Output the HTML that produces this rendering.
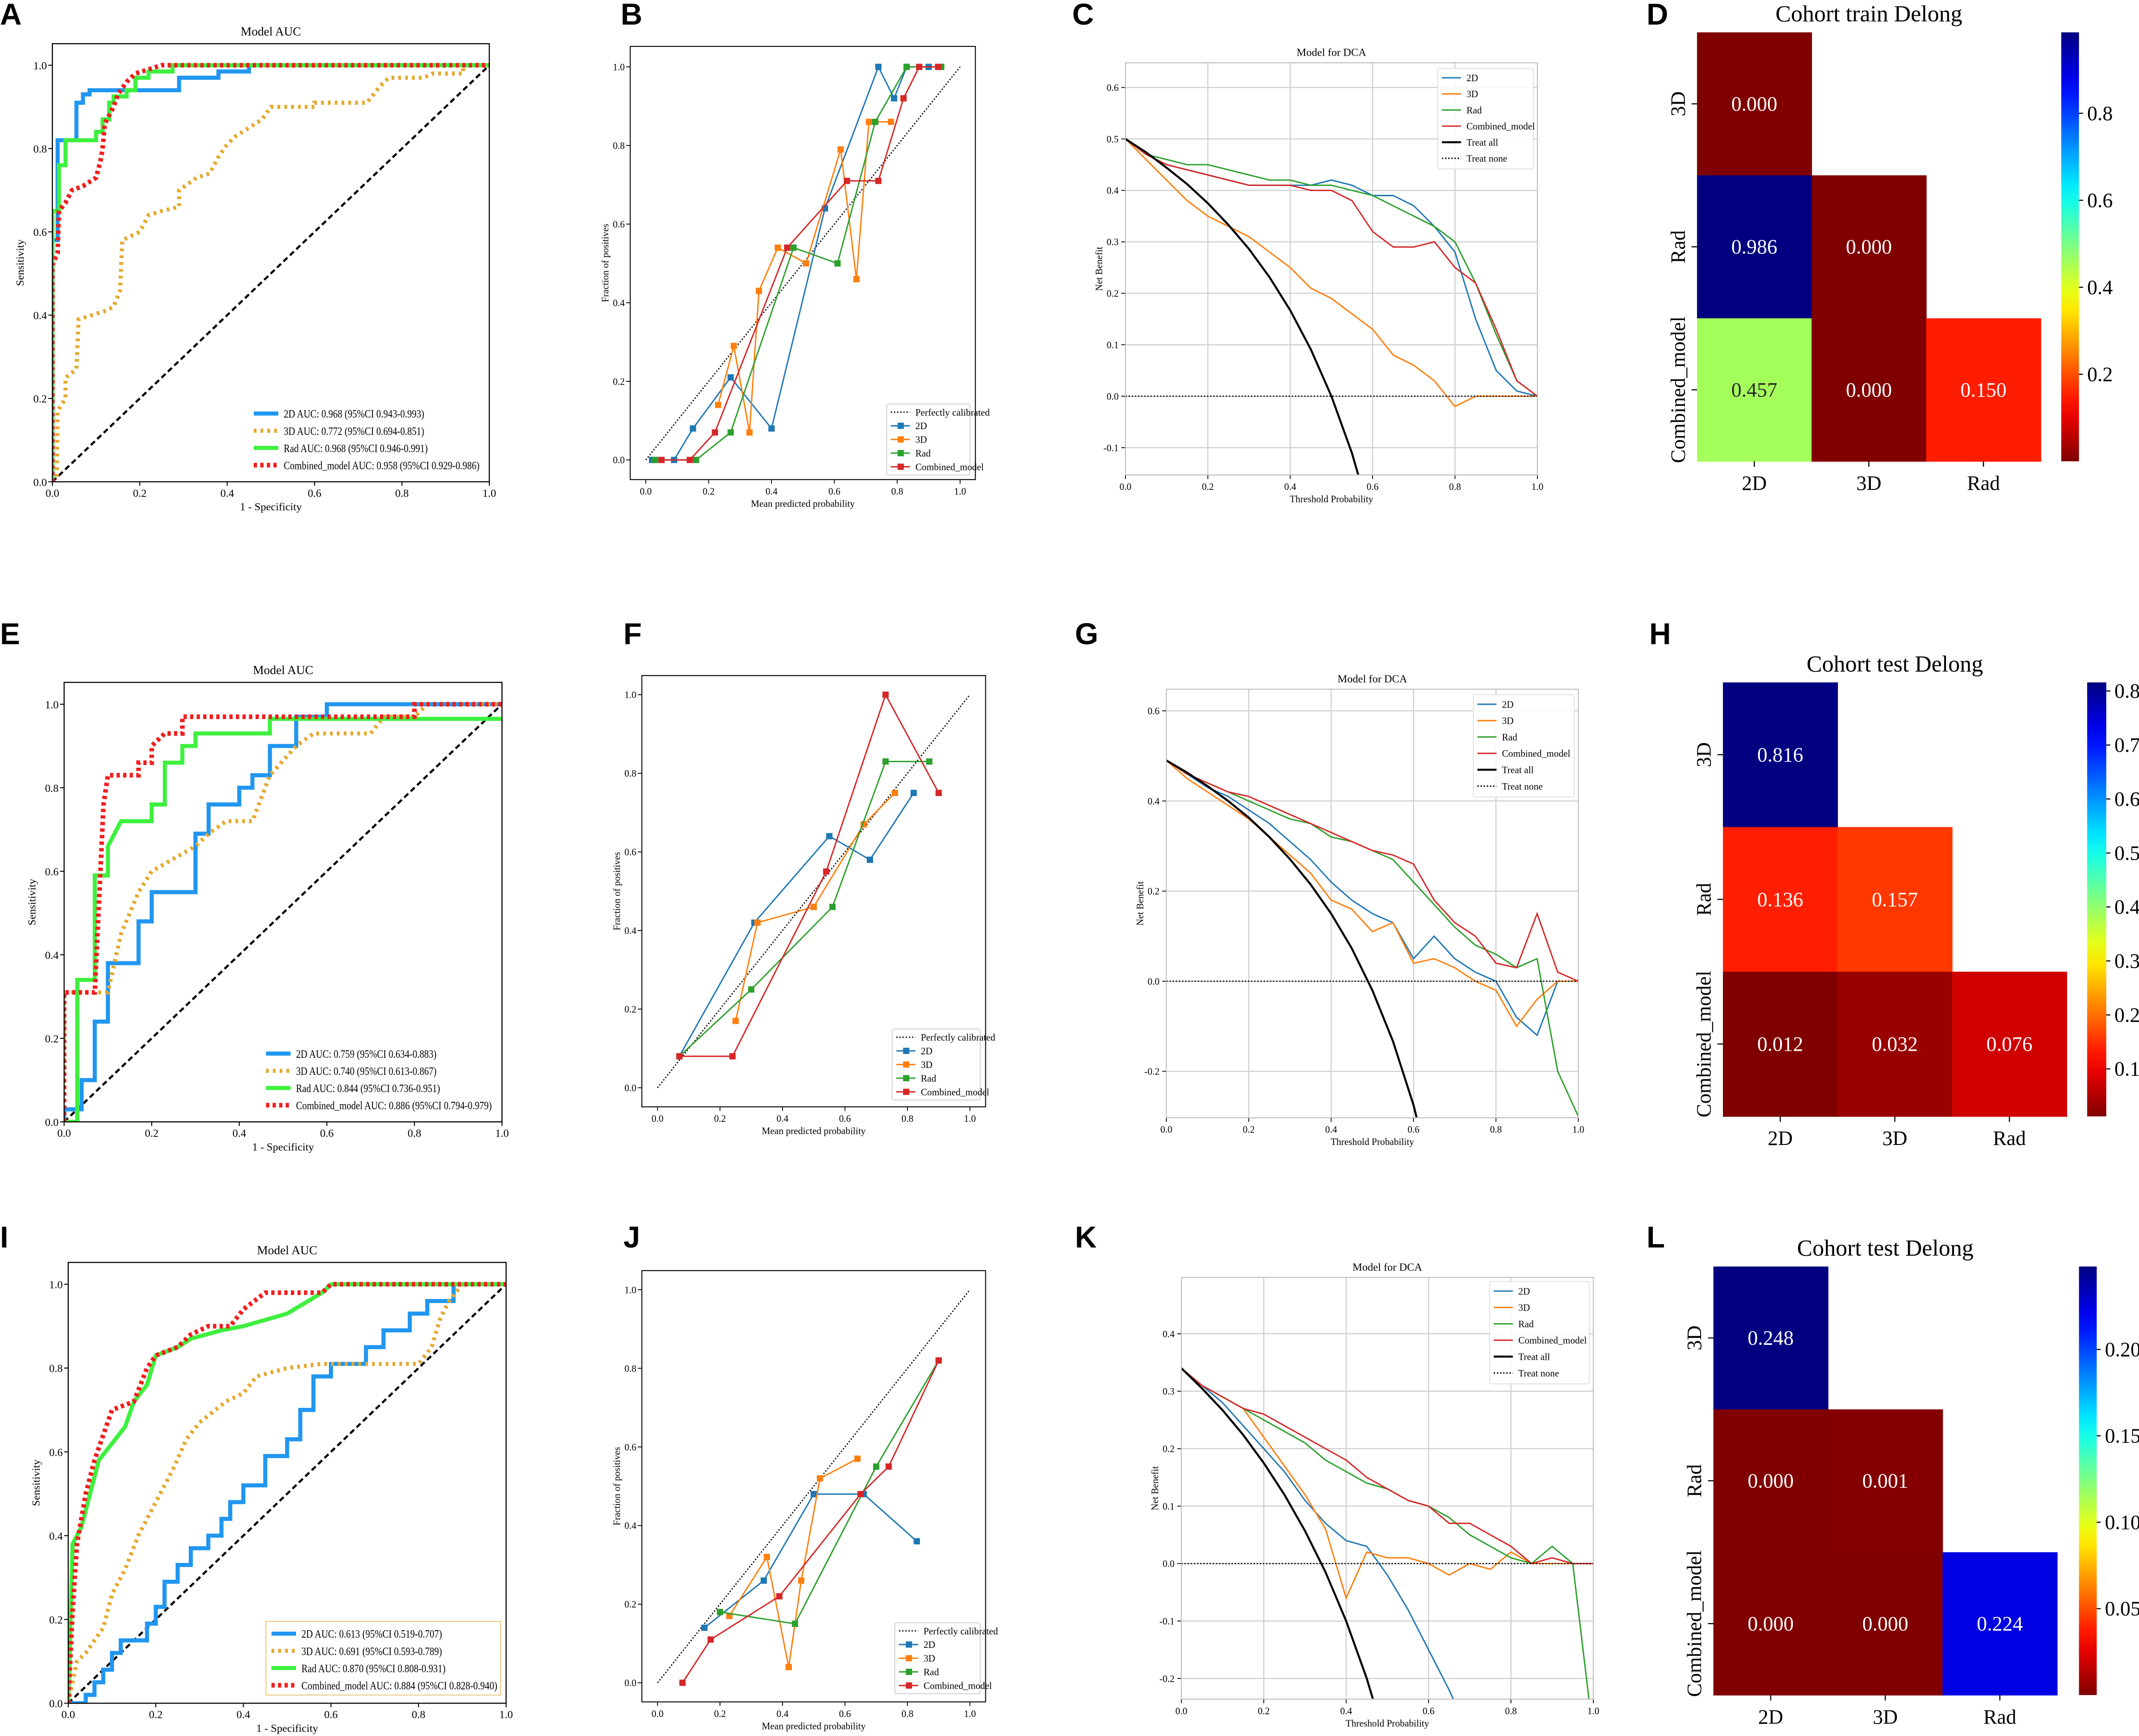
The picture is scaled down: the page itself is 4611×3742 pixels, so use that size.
<!DOCTYPE html>
<html><head><meta charset="utf-8"><style>
html,body{margin:0;padding:0;background:#fff;width:4611px;height:3742px;overflow:hidden}
svg{display:block}
text{font-family:"Liberation Serif",serif}
.lt{font-family:"Liberation Sans",sans-serif;font-weight:bold}
</style></head><body>
<svg id="fig" xmlns="http://www.w3.org/2000/svg" width="4611" height="3742" viewBox="0 0 1568 1272" preserveAspectRatio="none">
<rect x="0" y="0" width="1568" height="1272" fill="#fff"/>
</svg>
<script>
// ===== ROC data (fpr, tpr pairs) =====
const rocA_2d=[[0,0],[0,0.58],[0.012,0.58],[0.012,0.82],[0.055,0.82],[0.055,0.91],[0.07,0.91],[0.07,0.93],[0.085,0.93],[0.085,0.94],[0.29,0.94],[0.29,0.97],[0.38,0.97],[0.38,0.985],[0.45,0.985],[0.45,1],[1,1]];
const rocA_3d=[[0,0],[0.01,0.01],[0.012,0.17],[0.03,0.2],[0.03,0.25],[0.055,0.27],[0.06,0.39],[0.09,0.4],[0.12,0.41],[0.14,0.42],[0.155,0.46],[0.16,0.58],[0.2,0.6],[0.22,0.64],[0.25,0.65],[0.29,0.66],[0.29,0.7],[0.33,0.73],[0.36,0.74],[0.38,0.78],[0.4,0.81],[0.42,0.83],[0.45,0.85],[0.48,0.87],[0.5,0.9],[0.6,0.9],[0.6,0.91],[0.72,0.91],[0.75,0.95],[0.77,0.97],[0.85,0.97],[0.87,0.98],[0.94,0.98],[0.94,1],[1,1]];
const rocA_rad=[[0,0],[0,0.65],[0.015,0.65],[0.015,0.76],[0.03,0.76],[0.03,0.82],[0.1,0.82],[0.1,0.84],[0.115,0.84],[0.115,0.87],[0.13,0.87],[0.13,0.91],[0.14,0.91],[0.14,0.925],[0.17,0.925],[0.17,0.94],[0.19,0.94],[0.19,0.97],[0.22,0.97],[0.22,0.985],[0.275,0.985],[0.275,1],[1,1]];
const rocA_comb=[[0,0],[0,0.52],[0.012,0.55],[0.015,0.65],[0.03,0.67],[0.045,0.7],[0.07,0.71],[0.1,0.73],[0.11,0.77],[0.115,0.8],[0.12,0.86],[0.14,0.9],[0.15,0.93],[0.17,0.96],[0.19,0.98],[0.22,0.99],[0.25,1],[1,1]];
const rocE_2d=[[0,0],[0,0.03],[0.04,0.03],[0.04,0.1],[0.07,0.1],[0.07,0.24],[0.1,0.24],[0.1,0.38],[0.17,0.38],[0.17,0.48],[0.2,0.48],[0.2,0.55],[0.3,0.55],[0.3,0.69],[0.33,0.69],[0.33,0.76],[0.4,0.76],[0.4,0.8],[0.43,0.8],[0.43,0.83],[0.47,0.83],[0.47,0.9],[0.53,0.9],[0.53,0.97],[0.6,0.97],[0.6,1],[1,1]];
const rocE_3d=[[0,0],[0,0.31],[0.1,0.31],[0.13,0.45],[0.17,0.55],[0.2,0.6],[0.3,0.66],[0.33,0.69],[0.37,0.72],[0.43,0.72],[0.47,0.83],[0.53,0.9],[0.57,0.93],[0.7,0.93],[0.73,0.97],[0.8,0.97],[0.83,1],[1,1]];
const rocE_rad=[[0,0],[0.03,0],[0.03,0.34],[0.07,0.34],[0.07,0.59],[0.1,0.59],[0.1,0.66],[0.13,0.72],[0.2,0.72],[0.2,0.76],[0.23,0.76],[0.23,0.86],[0.27,0.86],[0.27,0.9],[0.3,0.9],[0.3,0.93],[0.47,0.93],[0.47,0.965],[1,0.965]];
const rocE_comb=[[0,0],[0,0.31],[0.07,0.31],[0.09,0.76],[0.1,0.83],[0.17,0.83],[0.17,0.86],[0.2,0.86],[0.2,0.9],[0.23,0.93],[0.27,0.93],[0.27,0.97],[0.8,0.97],[0.8,1],[1,1]];
const rocI_2d=[[0,0],[0.04,0],[0.04,0.02],[0.06,0.02],[0.06,0.05],[0.08,0.05],[0.08,0.08],[0.1,0.08],[0.1,0.12],[0.12,0.12],[0.12,0.15],[0.18,0.15],[0.18,0.19],[0.2,0.19],[0.2,0.23],[0.22,0.23],[0.22,0.29],[0.25,0.29],[0.25,0.33],[0.28,0.33],[0.28,0.37],[0.32,0.37],[0.32,0.4],[0.35,0.4],[0.35,0.44],[0.37,0.44],[0.37,0.48],[0.4,0.48],[0.4,0.52],[0.45,0.52],[0.45,0.59],[0.5,0.59],[0.5,0.63],[0.53,0.63],[0.53,0.7],[0.56,0.7],[0.56,0.78],[0.6,0.78],[0.6,0.81],[0.68,0.81],[0.68,0.85],[0.72,0.85],[0.72,0.89],[0.78,0.89],[0.78,0.93],[0.82,0.93],[0.82,0.96],[0.88,0.96],[0.88,1],[1,1]];
const rocI_3d=[[0,0],[0.02,0.1],[0.04,0.12],[0.08,0.18],[0.1,0.26],[0.13,0.32],[0.16,0.4],[0.2,0.48],[0.24,0.56],[0.27,0.63],[0.3,0.67],[0.36,0.72],[0.4,0.74],[0.43,0.78],[0.5,0.8],[0.58,0.81],[0.8,0.81],[0.83,0.85],[0.85,0.92],[0.87,0.96],[0.9,1],[1,1]];
const rocI_rad=[[0,0],[0.01,0.38],[0.03,0.42],[0.05,0.5],[0.07,0.58],[0.1,0.62],[0.13,0.66],[0.15,0.72],[0.18,0.76],[0.2,0.83],[0.25,0.85],[0.28,0.87],[0.35,0.89],[0.4,0.9],[0.5,0.93],[0.58,0.98],[0.6,1],[1,1]];
const rocI_comb=[[0,0],[0.01,0.22],[0.02,0.38],[0.04,0.5],[0.06,0.58],[0.08,0.64],[0.1,0.7],[0.15,0.72],[0.18,0.8],[0.2,0.83],[0.25,0.85],[0.28,0.88],[0.32,0.9],[0.37,0.9],[0.4,0.94],[0.45,0.98],[0.58,0.98],[0.6,1],[1,1]];
const rocLabelsA=["2D AUC: 0.968 (95%CI 0.943-0.993)","3D AUC: 0.772 (95%CI 0.694-0.851)","Rad AUC: 0.968 (95%CI 0.946-0.991)","Combined_model AUC: 0.958 (95%CI 0.929-0.986)"];
const rocLabelsE=["2D AUC: 0.759 (95%CI 0.634-0.883)","3D AUC: 0.740 (95%CI 0.613-0.867)","Rad AUC: 0.844 (95%CI 0.736-0.951)","Combined_model AUC: 0.886 (95%CI 0.794-0.979)"];
const rocLabelsI=["2D AUC: 0.613 (95%CI 0.519-0.707)","3D AUC: 0.691 (95%CI 0.593-0.789)","Rad AUC: 0.870 (95%CI 0.808-0.931)","Combined_model AUC: 0.884 (95%CI 0.828-0.940)"];
const unitTicks=[0,0.2,0.4,0.6,0.8,1.0];
const unitTickLabels=["0.0","0.2","0.4","0.6","0.8","1.0"];

// ===== Calibration data =====
const calB_2d=[[0.02,0],[0.09,0],[0.15,0.08],[0.27,0.21],[0.4,0.08],[0.57,0.64],[0.74,1],[0.79,0.92],[0.83,1],[0.9,1]];
const calB_3d=[[0.23,0.14],[0.28,0.29],[0.33,0.07],[0.36,0.43],[0.42,0.54],[0.51,0.5],[0.62,0.79],[0.67,0.46],[0.71,0.86],[0.78,0.86]];
const calB_rad=[[0.03,0],[0.16,0],[0.27,0.07],[0.47,0.54],[0.61,0.5],[0.73,0.86],[0.83,1],[0.94,1]];
const calB_comb=[[0.05,0],[0.14,0],[0.22,0.07],[0.45,0.54],[0.64,0.71],[0.74,0.71],[0.82,0.92],[0.87,1],[0.93,1]];
const calF_2d=[[0.07,0.08],[0.31,0.42],[0.55,0.64],[0.68,0.58],[0.82,0.75]];
const calF_3d=[[0.25,0.17],[0.32,0.42],[0.5,0.46],[0.66,0.67],[0.76,0.75]];
const calF_rad=[[0.07,0.08],[0.3,0.25],[0.56,0.46],[0.73,0.83],[0.87,0.83]];
const calF_comb=[[0.07,0.08],[0.24,0.08],[0.54,0.55],[0.73,1],[0.9,0.75]];
const calJ_2d=[[0.15,0.14],[0.34,0.26],[0.5,0.48],[0.66,0.48],[0.83,0.36]];
const calJ_3d=[[0.23,0.17],[0.35,0.32],[0.42,0.04],[0.46,0.26],[0.52,0.52],[0.64,0.57]];
const calJ_rad=[[0.2,0.18],[0.44,0.15],[0.7,0.55],[0.9,0.82]];
const calJ_comb=[[0.08,0],[0.17,0.11],[0.39,0.22],[0.65,0.48],[0.74,0.55],[0.9,0.82]];
const calLabels=["2D","3D","Rad","Combined_model"];

// ===== DCA data =====
const thresholds=[0,0.05,0.1,0.15,0.2,0.25,0.3,0.35,0.4,0.45,0.5,0.55,0.6,0.65,0.7,0.75,0.8,0.85,0.9,0.95,1.0];
const dcaC_2d=[0.5,0.47,0.45,0.44,0.43,0.42,0.41,0.41,0.41,0.41,0.42,0.41,0.39,0.39,0.37,0.33,0.28,0.15,0.05,0.01,0];
const dcaC_3d=[0.5,0.46,0.42,0.38,0.35,0.33,0.31,0.28,0.25,0.21,0.19,0.16,0.13,0.08,0.06,0.03,-0.02,0,0,0,0];
const dcaC_rad=[0.5,0.47,0.46,0.45,0.45,0.44,0.43,0.42,0.42,0.41,0.41,0.40,0.39,0.37,0.35,0.33,0.30,0.22,0.12,0.03,0];
const dcaC_comb=[0.5,0.47,0.45,0.44,0.43,0.42,0.41,0.41,0.41,0.40,0.40,0.38,0.32,0.29,0.29,0.30,0.25,0.22,0.13,0.03,0];
const dcaC_all=[0.5,0.474,0.444,0.412,0.375,0.333,0.286,0.231,0.167,0.091,0,-0.111,-0.25,-0.43,-0.67,-1,-1.5,-2.3,-4,-9,-9];
const dcaG_2d=[0.49,0.46,0.43,0.41,0.38,0.35,0.31,0.27,0.22,0.18,0.15,0.13,0.05,0.10,0.05,0.02,0.0,-0.08,-0.12,0.0,0];
const dcaG_3d=[0.49,0.45,0.42,0.39,0.36,0.32,0.28,0.24,0.18,0.16,0.11,0.13,0.04,0.05,0.03,0.0,-0.02,-0.10,-0.04,0,0];
const dcaG_rad=[0.49,0.46,0.44,0.42,0.40,0.38,0.36,0.35,0.32,0.31,0.29,0.27,0.22,0.17,0.12,0.08,0.06,0.03,0.05,-0.2,-0.3];
const dcaG_comb=[0.49,0.46,0.44,0.42,0.41,0.39,0.37,0.35,0.33,0.31,0.29,0.28,0.26,0.18,0.13,0.10,0.04,0.03,0.15,0.02,0];
const dcaG_all=[0.49,0.463,0.433,0.4,0.363,0.32,0.271,0.215,0.15,0.073,-0.02,-0.133,-0.275,-0.46,-0.7,-1,-1.5,-2.4,-4,-9,-9];
const dcaK_2d=[0.34,0.31,0.28,0.24,0.2,0.16,0.11,0.07,0.04,0.03,-0.02,-0.08,-0.15,-0.22,-0.3,-0.3,-0.3,-0.3,-0.3,-0.3,-0.3];
const dcaK_3d=[0.34,0.31,0.29,0.27,0.22,0.17,0.12,0.06,-0.06,0.02,0.01,0.01,0.0,-0.02,0,-0.01,0.02,0,0,0,0];
const dcaK_rad=[0.34,0.31,0.29,0.27,0.25,0.23,0.21,0.18,0.16,0.14,0.13,0.11,0.10,0.08,0.05,0.03,0.01,0.0,0.03,0.0,-0.3];
const dcaK_comb=[0.34,0.31,0.29,0.27,0.26,0.24,0.22,0.20,0.18,0.15,0.13,0.11,0.10,0.07,0.07,0.05,0.03,0.0,0.01,0.0,0];
const dcaK_all=[0.34,0.305,0.267,0.224,0.175,0.12,0.057,-0.015,-0.1,-0.2,-0.32,-0.47,-0.65,-0.89,-1.2,-1.6,-2.3,-3.4,-5.6,-12,-12];
const dcaLabels=["2D","3D","Rad","Combined_model","Treat all","Treat none"];

// ===== Heatmap data =====
const hmRows=["3D","Rad","Combined_model"];
const hmCols=["2D","3D","Rad"];
const hmD=[[0.000],[0.986,0.000],[0.457,0.000,0.150]];
const hmH=[[0.816],[0.136,0.157],[0.012,0.032,0.076]];
const hmL=[[0.248],[0.000,0.001],[0.000,0.000,0.224]];
const cbTicksD=[0.2,0.4,0.6,0.8], cbTickLabD=["0.2","0.4","0.6","0.8"];
const cbTicksH=[0.1,0.2,0.3,0.4,0.5,0.6,0.7,0.8], cbTickLabH=["0.1","0.2","0.3","0.4","0.5","0.6","0.7","0.8"];
const cbTicksL=[0.05,0.10,0.15,0.20], cbTickLabL=["0.05","0.10","0.15","0.20"];

const NS='http://www.w3.org/2000/svg';
const svg=document.getElementById('fig');
function mk(tag,attrs,name,parent){
  const e=document.createElementNS(NS,tag);
  for(const k in attrs) e.setAttribute(k,attrs[k]);
  
  
  (parent||svg).appendChild(e);
  return e;
}
function txt(x,y,s,size,name,parent,anchor,extra){
  const a={x:x,y:y,'font-size':size,'text-anchor':anchor||'middle',fill:'#000'};
  if(extra) for(const k in extra) a[k]=extra[k];
  const t=mk('text',a,name,parent); t.textContent=s; return t;
}
function lin(d0,d1,p0,p1){return v=>p0+(v-d0)/(d1-d0)*(p1-p0);}
function pathOf(pts,sx,sy){return pts.map((p,i)=>(i?'L':'M')+sx(p[0]).toFixed(2)+' '+sy(p[1]).toFixed(2)).join(' ');}
let clipN=0;
function clipRect(L,T,R,B){
  const id='cl'+(clipN++);
  const cp=mk('clipPath',{id:id},'clip-path');
  mk('rect',{x:L,y:T,width:R-L,height:B-T},'clip-rect',cp);
  return 'url(#'+id+')';
}
function letter(s,x,y){txt(x,y,s,22,'panel-label-'+s.toLowerCase(),svg,'start',{'class':'lt'});}

// ===== ROC =====
function roc(c){
  const g=mk('g',{},'roc-panel-'+c.id);
  const sx=lin(0,1,c.L,c.R), sy=lin(0,1,c.B,c.y1);
  txt((c.L+c.R)/2,c.T-6,'Model AUC',9,'chart-title',g);
  const cp=clipRect(c.L,c.T,c.R,c.B);
  const pg=mk('g',{'clip-path':cp},'plot-area',g);
  mk('line',{x1:sx(0),y1:sy(0),x2:sx(1),y2:sy(1),stroke:'#000','stroke-width':1.6,'stroke-dasharray':'4 2.5'},'reference-diagonal',pg);
  const styles=[{s:c.d2,col:'#2196f0',w:3,da:''},{s:c.d3,col:'#e4a92e',w:3,da:'2 3'},{s:c.rad,col:'#3ef03e',w:3,da:''},{s:c.comb,col:'#f01e1e',w:3.4,da:'2.4 2.4'}];
  const names=['roc-2d','roc-3d','roc-rad','roc-combined'];
  styles.forEach((st,i)=>{mk('path',{d:pathOf(st.s,sx,sy),fill:'none',stroke:st.col,'stroke-width':st.w,'stroke-dasharray':st.da,'stroke-linejoin':'miter'},names[i],pg);});
  mk('rect',{x:c.L,y:c.T,width:c.R-c.L,height:c.B-c.T,fill:'none',stroke:'#000','stroke-width':0.8},'axes-frame',g);
  unitTicks.forEach((v,i)=>{
    mk('line',{x1:sx(v),y1:c.B,x2:sx(v),y2:c.B+3,stroke:'#000','stroke-width':0.7},'x-tick',g);
    txt(sx(v),c.B+11,unitTickLabels[i],8,'x-tick-label',g);
    mk('line',{x1:c.L-3,y1:sy(v),x2:c.L,y2:sy(v),stroke:'#000','stroke-width':0.7},'y-tick',g);
    txt(c.L-4,sy(v)+3,unitTickLabels[i],8,'y-tick-label',g,'end');
  });
  txt((c.L+c.R)/2,c.B+21,'1 - Specificity',8,'x-axis-title',g);
  txt(0,0,'Sensitivity',8,'y-axis-title',g,'middle',{transform:'translate('+(c.L-21)+','+((c.T+c.B)/2)+') rotate(-90)'});
  const lg=mk('g',{},'legend',g);
  mk('rect',{x:c.lx,y:c.ly,width:c.lw,height:54,fill:'#fff',stroke:c.lbc||'#fff','stroke-width':0.6},'legend-box',lg);
  styles.forEach((st,i)=>{
    const y=c.ly+9+i*12.6;
    mk('line',{x1:c.lx+4,y1:y,x2:c.lx+22,y2:y,stroke:st.col,'stroke-width':st.w,'stroke-dasharray':st.da},'legend-swatch',lg);
    const t=txt(c.lx+26,y+3,c.labels[i],8.3,'legend-entry',lg,'start');
    const w=t.getComputedTextLength();
    if(w>0){t.setAttribute('textLength',(w*0.82).toFixed(1));t.setAttribute('lengthAdjust','spacingAndGlyphs');}
  });
}
roc({id:'a',L:38.4,R:358.7,T:32,B:353,y1:47.8,d2:rocA_2d,d3:rocA_3d,rad:rocA_rad,comb:rocA_comb,labels:rocLabelsA,lx:182,ly:294,lw:173});
roc({id:'e',L:47,R:368,T:500,B:822,y1:516,d2:rocE_2d,d3:rocE_3d,rad:rocE_rad,comb:rocE_comb,labels:rocLabelsE,lx:191,ly:763,lw:174});
roc({id:'i',L:50,R:371,T:925,B:1248,y1:941,d2:rocI_2d,d3:rocI_3d,rad:rocI_rad,comb:rocI_comb,labels:rocLabelsI,lx:195,ly:1188,lw:172,lbc:'#e8c070'});

// ===== Calibration =====
const tab=['#1f77b4','#ff7f0e','#2ca02c','#d62728'];
function cal(c){
  const g=mk('g',{},'calibration-panel-'+c.id);
  const sx=lin(0,1,c.x0,c.x1), sy=lin(0,1,c.y0,c.y1);
  mk('line',{x1:sx(0),y1:sy(0),x2:sx(1),y2:sy(1),stroke:'#000','stroke-width':0.9,'stroke-dasharray':'1 1.3'},'perfectly-calibrated-line',g);
  const series=[c.d2,c.d3,c.rad,c.comb], names=['cal-2d','cal-3d','cal-rad','cal-combined'];
  series.forEach((s,i)=>{
    mk('path',{d:pathOf(s,sx,sy),fill:'none',stroke:tab[i],'stroke-width':1},names[i],g);
    s.forEach(p=>{mk('rect',{x:sx(p[0])-2.3,y:sy(p[1])-2.3,width:4.6,height:4.6,fill:tab[i]},names[i]+'-marker',g);});
  });
  mk('rect',{x:c.L,y:c.T,width:c.R-c.L,height:c.B-c.T,fill:'none',stroke:'#000','stroke-width':0.7},'axes-frame',g);
  unitTicks.forEach((v,i)=>{
    mk('line',{x1:sx(v),y1:c.B,x2:sx(v),y2:c.B+3,stroke:'#000','stroke-width':0.6},'x-tick',g);
    txt(sx(v),c.B+11,unitTickLabels[i],7,'x-tick-label',g);
    mk('line',{x1:c.L-3,y1:sy(v),x2:c.L,y2:sy(v),stroke:'#000','stroke-width':0.6},'y-tick',g);
    txt(c.L-4,sy(v)+2.5,unitTickLabels[i],7,'y-tick-label',g,'end');
  });
  txt((c.L+c.R)/2,c.B+20,'Mean predicted probability',7,'x-axis-title',g);
  txt(0,0,'Fraction of positives',7,'y-axis-title',g,'middle',{transform:'translate('+(c.L-16)+','+((c.T+c.B)/2)+') rotate(-90)'});
  const lg=mk('g',{},'legend',g);
  mk('rect',{x:c.lx,y:c.ly,width:c.R-4-c.lx,height:52,fill:'#fff',stroke:'#ccc','stroke-width':0.6,rx:1.5},'legend-box',lg);
  let y=c.ly+6;
  mk('line',{x1:c.lx+3,y1:y,x2:c.lx+17,y2:y,stroke:'#000','stroke-width':0.9,'stroke-dasharray':'1 1.3'},'legend-swatch',lg);
  txt(c.lx+21,y+2.5,'Perfectly calibrated',7,'legend-entry',lg,'start');
  calLabels.forEach((l,i)=>{
    y=c.ly+16+i*10;
    mk('line',{x1:c.lx+3,y1:y,x2:c.lx+17,y2:y,stroke:tab[i],'stroke-width':1},'legend-swatch',lg);
    mk('rect',{x:c.lx+8,y:y-2.3,width:4.6,height:4.6,fill:tab[i]},'legend-marker',lg);
    txt(c.lx+21,y+2.5,l,7,'legend-entry',lg,'start');
  });
}
cal({id:'b',L:462,R:715,T:34,B:351.4,x0:473.4,x1:703.8,y0:337,y1:49,d2:calB_2d,d3:calB_3d,rad:calB_rad,comb:calB_comb,lx:650,ly:296});
cal({id:'f',L:470.5,R:722.5,T:495,B:811,x0:482,x1:711,y0:797,y1:509,d2:calF_2d,d3:calF_3d,rad:calF_rad,comb:calF_comb,lx:654,ly:754});
cal({id:'j',L:470.5,R:722.5,T:931,B:1247,x0:482,x1:711,y0:1233,y1:945,d2:calJ_2d,d3:calJ_3d,rad:calJ_rad,comb:calJ_comb,lx:656,ly:1189});

// ===== DCA =====
function dca(c){
  const g=mk('g',{},'dca-panel-'+c.id);
  const sx=lin(0,1,c.L,c.R), sy=lin(c.ymin,c.ymax,c.B,c.T);
  txt((c.L+c.R)/2,c.T-5,'Model for DCA',8,'chart-title',g);
  const xt=[0,0.2,0.4,0.6,0.8,1.0];
  xt.forEach((v,i)=>{
    if(v>0&&v<1) mk('line',{x1:sx(v),y1:c.T,x2:sx(v),y2:c.B,stroke:'#cfcfcf','stroke-width':0.8},'x-grid-line',g);
    mk('line',{x1:sx(v),y1:c.B,x2:sx(v),y2:c.B+3,stroke:'#000','stroke-width':0.6},'x-tick',g);
    txt(sx(v),c.B+11,unitTickLabels[i],7,'x-tick-label',g);
  });
  c.yt.forEach((v,i)=>{
    mk('line',{x1:c.L,y1:sy(v),x2:c.R,y2:sy(v),stroke:'#cfcfcf','stroke-width':0.8},'y-grid-line',g);
    mk('line',{x1:c.L-3,y1:sy(v),x2:c.L,y2:sy(v),stroke:'#000','stroke-width':0.6},'y-tick',g);
    txt(c.L-5,sy(v)+2.5,c.ytl[i],7,'y-tick-label',g,'end');
  });
  const cp=clipRect(c.L,c.T,c.R,c.B);
  const pg=mk('g',{'clip-path':cp},'plot-area',g);
  const ser=[c.d2,c.d3,c.rad,c.comb], names=['dca-2d','dca-3d','dca-rad','dca-combined'];
  ser.forEach((s,i)=>{
    const pts=thresholds.map((t,k)=>[t,s[k]]);
    mk('path',{d:pathOf(pts,sx,sy),fill:'none',stroke:tab[i],'stroke-width':1},names[i],pg);
  });
  const ap=thresholds.map((t,k)=>[t,c.all[k]]);
  mk('path',{d:pathOf(ap,sx,sy),fill:'none',stroke:'#000','stroke-width':1.5},'treat-all-line',pg);
  mk('line',{x1:sx(0),y1:sy(0),x2:sx(1),y2:sy(0),stroke:'#000','stroke-width':0.9,'stroke-dasharray':'1 1.3'},'treat-none-line',pg);
  mk('rect',{x:c.L,y:c.T,width:c.R-c.L,height:c.B-c.T,fill:'none',stroke:'#bbb','stroke-width':0.7},'axes-frame',g);
  txt((c.L+c.R)/2,c.B+20,'Threshold Probability',7,'x-axis-title',g);
  txt(0,0,'Net Benefit',7,'y-axis-title',g,'middle',{transform:'translate('+(c.L-17)+','+((c.T+c.B)/2)+') rotate(-90)'});
  const lg=mk('g',{},'legend',g);
  mk('rect',{x:c.lx,y:c.ly,width:c.R-3-c.lx,height:6*c.lsp+3,fill:'#fff','fill-opacity':0.85,stroke:'#ddd','stroke-width':0.6,rx:1.5},'legend-box',lg);
  dcaLabels.forEach((l,i)=>{
    const y=c.ly+7+i*c.lsp;
    const col=i<4?tab[i]:'#000';
    mk('line',{x1:c.lx+3,y1:y,x2:c.lx+17,y2:y,stroke:col,'stroke-width':i==4?1.5:1,'stroke-dasharray':i==5?'1 1.3':''},'legend-swatch',lg);
    txt(c.lx+21,y+2.5,l,7,'legend-entry',lg,'start');
  });
}
dca({id:'c',L:825,R:1127,T:46,B:348,ymin:-0.153,ymax:0.648,yt:[-0.1,0,0.1,0.2,0.3,0.4,0.5,0.6],ytl:["-0.1","0.0","0.1","0.2","0.3","0.4","0.5","0.6"],d2:dcaC_2d,d3:dcaC_3d,rad:dcaC_rad,comb:dcaC_comb,all:dcaC_all,lx:1054,ly:50,lsp:11.8});
dca({id:'g',L:855,R:1157,T:505,B:819,ymin:-0.303,ymax:0.648,yt:[-0.2,0,0.2,0.4,0.6],ytl:["-0.2","0.0","0.2","0.4","0.6"],d2:dcaG_2d,d3:dcaG_3d,rad:dcaG_rad,comb:dcaG_comb,all:dcaG_all,lx:1080,ly:509,lsp:12});
dca({id:'k',L:866,R:1168,T:936,B:1245,ymin:-0.236,ymax:0.498,yt:[-0.2,-0.1,0,0.1,0.2,0.3,0.4],ytl:["-0.2","-0.1","0.0","0.1","0.2","0.3","0.4"],d2:dcaK_2d,d3:dcaK_3d,rad:dcaK_rad,comb:dcaK_comb,all:dcaK_all,lx:1092,ly:939,lsp:12});

// ===== Heatmaps =====
function jet(x){const c=v=>Math.max(0,Math.min(1,v));return [c(1.5-Math.abs(4*x-3)),c(1.5-Math.abs(4*x-2)),c(1.5-Math.abs(4*x-1))];}
function cmap(v,vmin,vmax){const t=Math.max(0,Math.min(1,(v-vmin)/(vmax-vmin)));return jet(1-t);}
function rgb(a){return 'rgb('+a.map(v=>Math.round(v*255)).join(',')+')';}
function heat(c){
  const g=mk('g',{},'heatmap-panel-'+c.id);
  const cw=(c.R-c.L)/3, ch=(c.B-c.T)/3;
  txt((c.L+c.R)/2,c.T-8,c.title,17,'chart-title',g);
  c.vals.forEach((row,r)=>row.forEach((v,k)=>{
    const col=cmap(v,c.vmin,c.vmax);
    mk('rect',{x:c.L+k*cw,y:c.T+r*ch,width:cw+0.3,height:ch+0.3,fill:rgb(col)},'heatmap-cell',g);
    const lum=0.299*col[0]+0.587*col[1]+0.114*col[2];
    txt(c.L+k*cw+cw/2,c.T+r*ch+ch/2+5,v.toFixed(3),15,'cell-value',g,'middle',{fill:lum>0.5?'#262626':'#ffffff',style:'fill:'+(lum>0.5?'#262626':'#ffffff')});
  }));
  hmCols.forEach((l,k)=>{
    mk('line',{x1:c.L+k*cw+cw/2,y1:c.B,x2:c.L+k*cw+cw/2,y2:c.B+4,stroke:'#000','stroke-width':0.8},'x-tick',g);
    txt(c.L+k*cw+cw/2,c.B+21,l,15,'x-tick-label',g);
  });
  hmRows.forEach((l,r)=>{
    const y=c.T+r*ch+ch/2;
    mk('line',{x1:c.L-4,y1:y,x2:c.L,y2:y,stroke:'#000','stroke-width':0.8},'y-tick',g);
    txt(0,0,l,15,'y-tick-label',g,'middle',{transform:'translate('+(c.L-9)+','+y+') rotate(-90)'});
  });
  const gid='grad'+c.id;
  const lg=mk('linearGradient',{id:gid,x1:0,y1:1,x2:0,y2:0},'colorbar-gradient',g);
  for(let i=0;i<=20;i++){mk('stop',{offset:(i/20),'stop-color':rgb(jet(1-i/20))},'gradient-stop',lg);}
  mk('rect',{x:c.cbL,y:c.T,width:c.cbR-c.cbL,height:c.B-c.T,fill:'url(#'+gid+')'},'colorbar',g);
  const cy=lin(c.vmin,c.vmax,c.B,c.T);
  c.ticks.forEach((v,i)=>{
    mk('line',{x1:c.cbR,y1:cy(v),x2:c.cbR+3,y2:cy(v),stroke:'#000','stroke-width':0.8},'colorbar-tick',g);
    txt(c.cbR+6,cy(v)+5,c.tickLab[i],15,'colorbar-tick-label',g,'start');
  });
}
heat({id:'d',L:1244,R:1496,T:23.7,B:338,cbL:1511,cbR:1524,vmin:0,vmax:0.986,vals:hmD,ticks:cbTicksD,tickLab:cbTickLabD,title:'Cohort train Delong'});
heat({id:'h',L:1263,R:1515,T:500,B:818,cbL:1530,cbR:1544,vmin:0.012,vmax:0.816,vals:hmH,ticks:cbTicksH,tickLab:cbTickLabH,title:'Cohort test Delong'});
heat({id:'l',L:1256,R:1508,T:928,B:1242,cbL:1524,cbR:1537,vmin:0,vmax:0.248,vals:hmL,ticks:cbTicksL,tickLab:cbTickLabL,title:'Cohort test Delong'});

// ===== Panel letters =====
letter('A',0,18);letter('B',455,18);letter('C',786,18);letter('D',1207,18);
letter('E',0,472);letter('F',457,472);letter('G',788,472);letter('H',1209,472);
letter('I',0,914);letter('J',457,914);letter('K',788,914);letter('L',1207,914);
</script>
</body></html>
